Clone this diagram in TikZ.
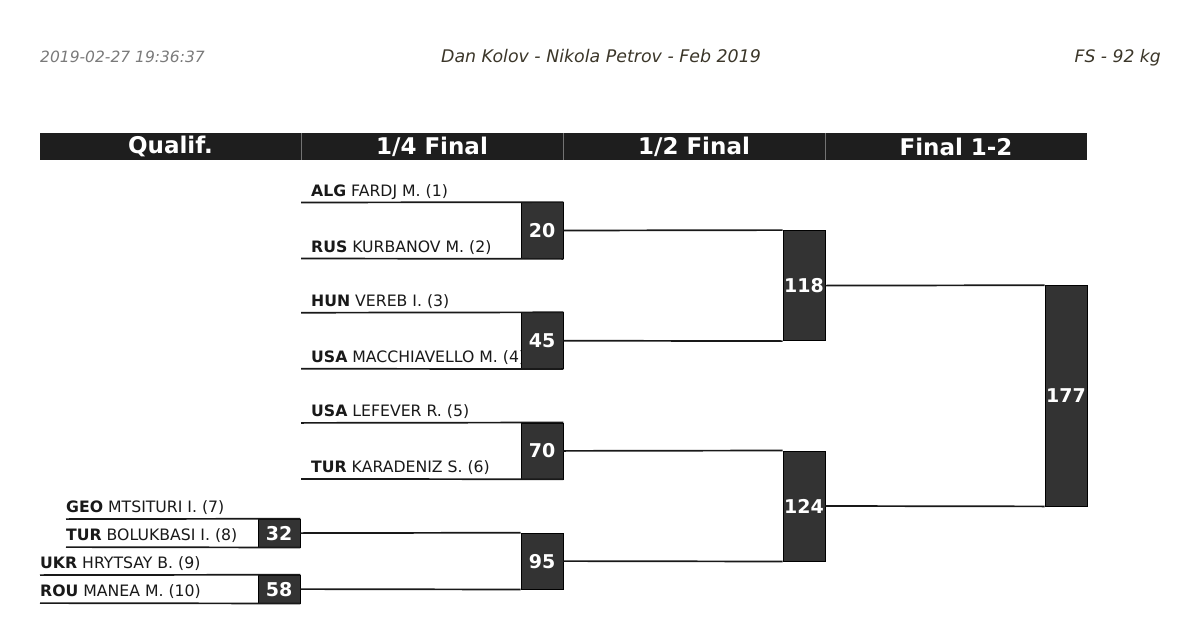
\documentclass[tikz,border=0pt]{standalone}
\usepackage{fontspec}
\setmainfont{DejaVu Sans}
\definecolor{barblack}{HTML}{1E1E1E}
\definecolor{boxgray}{HTML}{333333}
\definecolor{titlebrown}{HTML}{3B3629}
\definecolor{dategray}{HTML}{7A7A7A}
\tikzset{
  hdr/.style={text=white,font=\fontsize{23}{26}\selectfont\bfseries},
  score/.style={draw=black,line width=0.8pt,fill=boxgray,text=white,inner sep=0pt,
    minimum width=42pt,font=\fontsize{19}{21}\selectfont\bfseries},
  wrestler/.style={anchor=base west,inner sep=0pt,text=black!90,font=\fontsize{15.7}{18}\selectfont},
  bline/.style={line width=1.7pt,black!90},
}
\begin{document}
\begin{tikzpicture}[x=1pt,y=-1pt]
    \useasboundingbox[fill=white] (0,0) rectangle (1200,621);
    \node[anchor=base west,inner sep=0pt,text=dategray,font=\fontsize{15.5}{18}\selectfont\itshape] (date) at (40,62) {2019-02-27 19:36:37};
    \node[anchor=base,inner sep=0pt,text=titlebrown,font=\fontsize{17.4}{20}\selectfont\itshape] (title) at (601,62) {Dan Kolov - Nikola Petrov - Feb 2019};
    \node[anchor=base east,inner sep=0pt,text=titlebrown,font=\fontsize{17.2}{20}\selectfont\itshape] (cat) at (1161,62) {FS - 92 kg};
    % rounds
    \fill[barblack] (40,133) rectangle (1087,160);
    \foreach \x in {301,563,825} {
      \draw[black!55,line width=0.6pt] (\x,133)--(\x,160);
    };
    \node[hdr] (hq) at (170.5,146.5) {Qualif.};
    \node[hdr] (h4) at (432,146.5) {1/4 Final};
    \node[hdr] (h2) at (694,146.5) {1/2 Final};
    \node[hdr] (h1) at (956,146.5) {Final 1-2};
    % qualif.
    \node[wrestler] (w7) at (66,512.6) {\textbf{GEO} MTSITURI I. (7)};
    \node[wrestler] (w8) at (66,540.6) {\textbf{TUR} BOLUKBASI I. (8)};
    \node[wrestler] (w9) at (40,568.6) {\textbf{UKR} HRYTSAY B. (9)};
    \node[wrestler] (w10) at (40,596.6) {\textbf{ROU} MANEA M. (10)};
    \coordinate (e7) at (66,519.1);
    \coordinate (e8) at (66,547.1);
    \coordinate (e9) at (40,575.1);
    \coordinate (e10) at (40,603.1);
    \node[score,minimum height=28pt] (m32) at (279,533.1) {32};
    \node[score,minimum height=28pt] (m58) at (279,589.1) {58};
    \draw[bline] (e7) -- (m32.north east);
    \draw[bline] (e8) -- (m32.south east);
    \draw[bline] (e9) -- (m58.north east);
    \draw[bline] (e10) -- (m58.south east);
    % 1/4 final
    \foreach \m/\y/\a/\b in {20/230.5/{\textbf{ALG} FARDJ M. (1)}/{\textbf{RUS} KURBANOV M. (2)},
        45/340.7/{\textbf{HUN} VEREB I. (3)}/{\textbf{USA} MACCHIAVELLO M. (4)},
        70/450.9/{\textbf{USA} LEFEVER R. (5)}/{\textbf{TUR} KARADENIZ S. (6)}} {
      \node[wrestler] (a\m) at (311,\y-34.5) {\a};
      \node[wrestler] (b\m) at (311,\y+21.5) {\b};
      \coordinate (ea\m) at (301,\y-28);
      \coordinate (eb\m) at (301,\y+28);
      \node[score,minimum height=56pt] (m\m) at (542,\y) {\m};
      \draw[bline] (ea\m) -- (m\m.north east);
      \draw[bline] (eb\m) -- (m\m.south east);
    };
    \node[score,minimum height=56pt] (m95) at (542,561.1) {95};
    \draw[bline] (m32.east) -- (m95.north west);
    \draw[bline] (m58.east) -- (m95.south west);
    % 1/2 final
    \node[score,minimum height=110.2pt] (m118) at (804,285.6) {118};
    \node[score,minimum height=110.2pt] (m124) at (804,506) {124};
    \draw[bline] (m20.east) -- (m118.north west);
    \draw[bline] (m45.east) -- (m118.south west);
    \draw[bline] (m70.east) -- (m124.north west);
    \draw[bline] (m95.east) -- (m124.south west);
    % final
    \node[score,minimum height=220.4pt] (m177) at (1066,395.8) {177};
    \draw[bline] (m118.east) -- (m177.north west);
    \draw[bline] (m124.east) -- (m177.south west);
  \end{tikzpicture}
\end{document}
